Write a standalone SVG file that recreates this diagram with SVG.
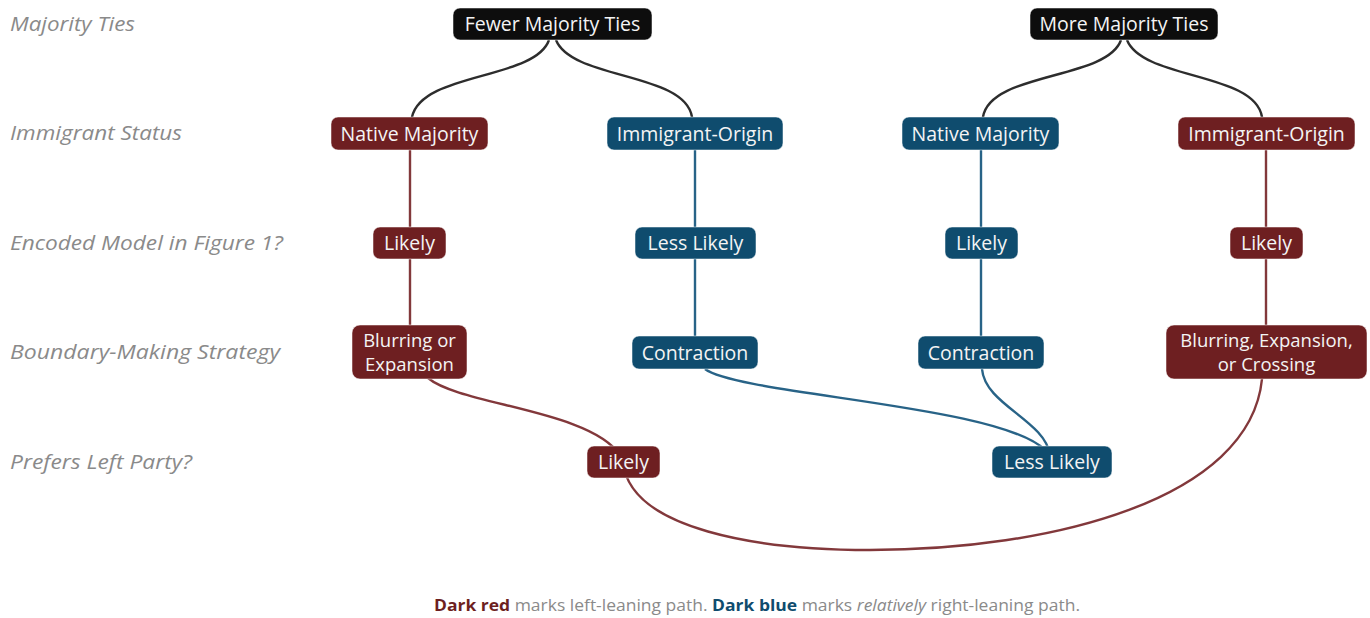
<svg xmlns="http://www.w3.org/2000/svg" width="1370" height="618" viewBox="0 0 1370 618">
<style>
.row{font-family:"Open Sans",Lato,sans-serif;font-style:italic;font-size:20px;fill:#8a8a8a}
.n text{font-family:"Open Sans",Lato,sans-serif;font-size:19.5px;fill:#f4f4f4;text-anchor:middle}
.n text.two{font-size:18.5px}
.k rect{fill:#0d0d0d}
.r rect{fill:#6e1f21}
.b rect{fill:#0f4c6e}
.n rect{stroke:#ffffff;stroke-opacity:0.5;stroke-width:1}
#edges path{fill:none;stroke-width:2.4;stroke-opacity:0.9}
.ek{stroke:#161616}
.er{stroke:#742226}
.eb{stroke:#11527a}
.foot{font-family:"Open Sans",Lato,sans-serif;font-size:15.5px;fill:#8a8a8a}
</style>
<g id="rowlabels">
<text class="row" x="10" y="31" textLength="125" lengthAdjust="spacingAndGlyphs">Majority Ties</text>
<text class="row" x="10" y="140" textLength="172" lengthAdjust="spacingAndGlyphs">Immigrant Status</text>
<text class="row" x="10" y="250" textLength="273" lengthAdjust="spacingAndGlyphs">Encoded Model in Figure 1?</text>
<text class="row" x="10" y="359" textLength="270" lengthAdjust="spacingAndGlyphs">Boundary-Making Strategy</text>
<text class="row" x="10" y="469" textLength="182" lengthAdjust="spacingAndGlyphs">Prefers Left Party?</text>
</g>
<g id="edges">
<path class="ek" d="M549,40 C535,80 422,72 412,117 L411,133"/>
<path class="ek" d="M556,40 C572,80 685,72 692,117 L693,133"/>
<path class="ek" d="M1121,40 C1107,80 990,72 983,117 L982,133"/>
<path class="ek" d="M1127,40 C1143,80 1255,72 1262,117 L1263,133"/>
<path class="er" d="M410,133 L410,352"/>
<path class="eb" d="M695,133 L695,352"/>
<path class="eb" d="M981,133 L981,352"/>
<path class="er" d="M1266,133 L1266,352"/>
<path class="er" d="M428,378 C460,405 590,410 620,455"/>
<path class="eb" d="M705,369 C740,395 1000,405 1045,450"/>
<path class="eb" d="M982,369 C985,405 1045,420 1050,455"/>
<path class="er" d="M1262,379 C1250,500 1050,550 870,550 C760,550 630,530 623,462"/>
</g>
<g id="n_fewer" class="n k"><rect x="453" y="8" width="199" height="32" rx="7"/><text x="552.5" y="31">Fewer Majority Ties</text></g>
<g id="n_more" class="n k"><rect x="1030" y="8" width="188" height="32" rx="7"/><text x="1124" y="31">More Majority Ties</text></g>
<g id="n_native1" class="n r"><rect x="331" y="117" width="157" height="33" rx="7"/><text x="409.5" y="140.5">Native Majority</text></g>
<g id="n_immig1" class="n b"><rect x="607" y="117" width="176" height="33" rx="7"/><text x="695" y="140.5">Immigrant-Origin</text></g>
<g id="n_native2" class="n b"><rect x="902" y="117" width="157" height="33" rx="7"/><text x="980.5" y="140.5">Native Majority</text></g>
<g id="n_immig2" class="n r"><rect x="1178" y="117" width="177" height="33" rx="7"/><text x="1266.5" y="140.5">Immigrant-Origin</text></g>
<g id="n_likely1" class="n r"><rect x="373" y="227" width="73" height="32" rx="7"/><text x="409.5" y="250">Likely</text></g>
<g id="n_less1" class="n b"><rect x="635" y="227" width="121" height="32" rx="7"/><text x="695.5" y="250">Less Likely</text></g>
<g id="n_likely2" class="n b"><rect x="945" y="227" width="73" height="32" rx="7"/><text x="981.5" y="250">Likely</text></g>
<g id="n_likely3" class="n r"><rect x="1230" y="227" width="73" height="32" rx="7"/><text x="1266.5" y="250">Likely</text></g>
<g id="n_blur1" class="n r"><rect x="352" y="325" width="115" height="54" rx="8"/><text class="two" x="409.5" y="346.5">Blurring or<tspan x="409.5" dy="24">Expansion</tspan></text></g>
<g id="n_contr1" class="n b"><rect x="632" y="336" width="126" height="33" rx="7"/><text x="695" y="359.5">Contraction</text></g>
<g id="n_contr2" class="n b"><rect x="918" y="336" width="126" height="33" rx="7"/><text x="981" y="359.5">Contraction</text></g>
<g id="n_blur2" class="n r"><rect x="1166" y="325" width="201" height="54" rx="8"/><text class="two" x="1266.5" y="346.5">Blurring, Expansion,<tspan x="1266.5" dy="24">or Crossing</tspan></text></g>
<g id="n_left_likely" class="n r"><rect x="587" y="446" width="73" height="32" rx="7"/><text x="623.5" y="469">Likely</text></g>
<g id="n_left_less" class="n b"><rect x="992" y="446" width="120" height="32" rx="7"/><text x="1052" y="469">Less Likely</text></g>
<text class="foot" x="434" y="611" textLength="646" lengthAdjust="spacingAndGlyphs"><tspan font-weight="bold" fill="#6d1f1f">Dark red</tspan> marks left-leaning path. <tspan font-weight="bold" fill="#0f4c6e">Dark blue</tspan> marks <tspan font-style="italic">relatively</tspan> right-leaning path.</text>
</svg>
